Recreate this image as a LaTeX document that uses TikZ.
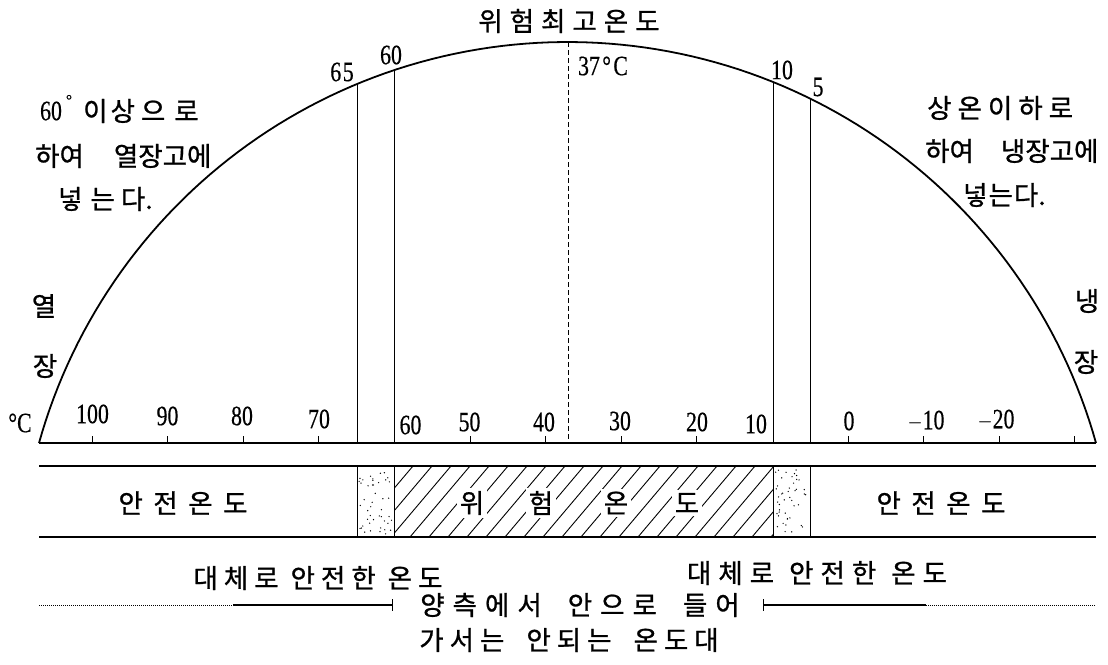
\documentclass[tikz,border=0pt]{standalone}
\usepackage{fontspec}
\setmainfont{Liberation Serif}[FakeBold=0.5]
\newfontfamily\kr{Noto Sans CJK KR}[FakeBold=0.9]
\begin{document}
\begin{tikzpicture}[x=1pt,y=-1pt,
  kt/.style={font=\kr\fontsize{26.5}{30}\selectfont, inner sep=0pt},
  num/.style={font=\fontsize{28}{32}\selectfont, inner sep=0pt, xscale=0.78},
  thin line/.style={line width=1pt},
  arcline/.style={line width=1.8pt},
  bandline/.style={line width=1.3pt},
  tick/.style={line width=1pt}]
\useasboundingbox (0,0) rectangle (1108,664);

% arc (circular segment)
\draw[arcline] plot[domain=15.62:164.38, samples=120]
  ({567.5+548.8*cos(\x)},{590.8-548.8*sin(\x)});
% baseline
\coordinate (bl) at (39,443);
\coordinate (br) at (1096,443);
\draw[bandline] (bl) -- (br);

% vertical lines
\draw[thin line] (357,84) -- (357,443);
\draw[thin line] (394,69.5) -- (394,443);
\draw[thin line] (773,82) -- (773,443);
\draw[thin line] (810,98.5) -- (810,443);
\draw[thin line, dash pattern=on 5pt off 3pt] (568,42) -- (568,443);

% ticks
\foreach \t in {100,90,80,70,50,40,30,20,0,-10,-20,-30}
  \draw[tick] ({92+(100-\t)*7.56},443) -- ++(0,-7);

% scale numbers
\node[num] at (20,423) {°C};
\node[num] at (92.5,414) {100};
\node[num] at (167.5,416) {90};
\node[num] at (242,416) {80};
\node[num] at (319,419) {70};
\node[num] at (410.5,425) {60};
\node[num] at (469.5,422) {50};
\node[num] at (544,422) {40};
\node[num] at (620,421) {30};
\node[num] at (697,422) {20};
\node[num] at (756,424) {10};
\node[num] at (849,421) {0};
\node[num] at (926,421) {$-$10};
\node[num] at (996,420) {$-$20};

% top numbers
\node[num] at (342,72) {6\kern2pt 5};
\node[num] at (391,55) {60};
\node[num] at (603,66) {37\kern3pt°\kern3pt C};
\node[num] at (782,70) {10};
\node[num] at (818,87) {5};

% title
\node[kt] at (569,21) {위\kern7pt 험\kern7pt 최\kern7pt 고\kern7pt 온\kern7pt 도};

% left texts
\node[num] at (51,111) {60};
\node[font=\fontsize{15}{15}\selectfont, inner sep=0pt] at (69,100) {°};
\node[kt, anchor=west] at (83,111) {이\kern3pt 상\kern6pt 으\kern9pt 로};
\node[kt, anchor=west] at (35,156) {하여\kern30pt 열장고에};
\node[kt, anchor=west] at (58,199) {넣\kern8pt 는\kern6pt 다.};

% right texts
\node[kt, anchor=west] at (927,108) {상\kern6pt 온\kern6pt 이\kern6pt 하\kern6pt 로};
\node[kt, anchor=west] at (925,151) {하여\kern27pt 냉장고에};
\node[kt, anchor=west] at (963,195) {넣\kern1pt 는\kern1pt 다.};

% side labels
\node[kt] at (44,306) {열};
\node[kt] at (45,366) {장};
\node[kt] at (1087,301) {냉};
\node[kt] at (1086,362) {장};

% band
\draw[bandline] (39,466) -- (1096,466);
\draw[bandline] (39,537) -- (1096,537);
\foreach \xx in {357,394,773,810}
  \draw[thin line] (\xx,466) -- (\xx,537);

% hatching
\begin{scope}
  \clip (394,466) rectangle (773,537);
  \foreach \k in {0,...,24}
    \draw[line width=0.9pt] ({334+\k*19},537) -- ++(60,-71);
\end{scope}

% dots
\pgfmathsetseed{7}
\foreach \i in {1,...,45}{
  \pgfmathsetmacro\dx{359+33*rnd}
  \pgfmathsetmacro\dy{469+65*rnd}
  \fill (\dx,\dy) circle[radius=0.7pt];
}
\foreach \i in {1,...,45}{
  \pgfmathsetmacro\dx{775+33*rnd}
  \pgfmathsetmacro\dy{469+65*rnd}
  \fill (\dx,\dy) circle[radius=0.7pt];
}

% band texts
\node[kt] at (183,503) {안\kern10.5pt 전\kern10.5pt 온\kern10.5pt 도};
\node[kt] at (941,503) {안\kern10.5pt 전\kern10.5pt 온\kern10.5pt 도};
\node[kt, fill=white, inner sep=3pt] (w1) at (472,503) {위};
\node[kt, fill=white, inner sep=3pt] (w2) at (541,503) {험};
\node[kt, fill=white, inner sep=3pt] (w3) at (616,503) {온};
\node[kt, fill=white, inner sep=3pt] (w4) at (687,503) {도};

% lower texts
\node[kt] at (318,578) {대\kern6pt 체\kern6pt 로\kern12pt 안\kern6pt 전\kern6pt 한\kern12pt 온\kern6pt 도};
\node[kt] at (817,573) {대\kern7pt 체\kern7pt 로\kern15pt 안\kern7pt 전\kern7pt 한\kern15pt 온\kern7pt 도};

\coordinate (la) at (39,605);
\coordinate (lb) at (233,605);
\coordinate (lc) at (392,605);
\coordinate (ra) at (1095,605);
\coordinate (rb) at (926,605);
\coordinate (rc) at (763,605);
\draw[line width=0.8pt, dash pattern=on 1pt off 1pt] (la) -- (lb);
\draw[line width=1.3pt] (lb) -- (lc);
\draw[line width=1pt] (392,599) -- (392,611);
\draw[line width=0.8pt, dash pattern=on 1pt off 1pt] (ra) -- (rb);
\draw[line width=1.3pt] (rb) -- (rc);
\draw[line width=1pt] (763,599) -- (763,611);

\node[kt] at (580,605) {양\kern8pt 측\kern8pt 에\kern8pt 서\kern26pt 안\kern8pt 으\kern8pt 로\kern26pt 들\kern8pt 어};
\node[kt] at (569,640) {가\kern6pt 서\kern6pt 는\kern22pt 안\kern6pt 되\kern6pt 는\kern22pt 온\kern6pt 도\kern6pt 대};
\end{tikzpicture}
\end{document}
